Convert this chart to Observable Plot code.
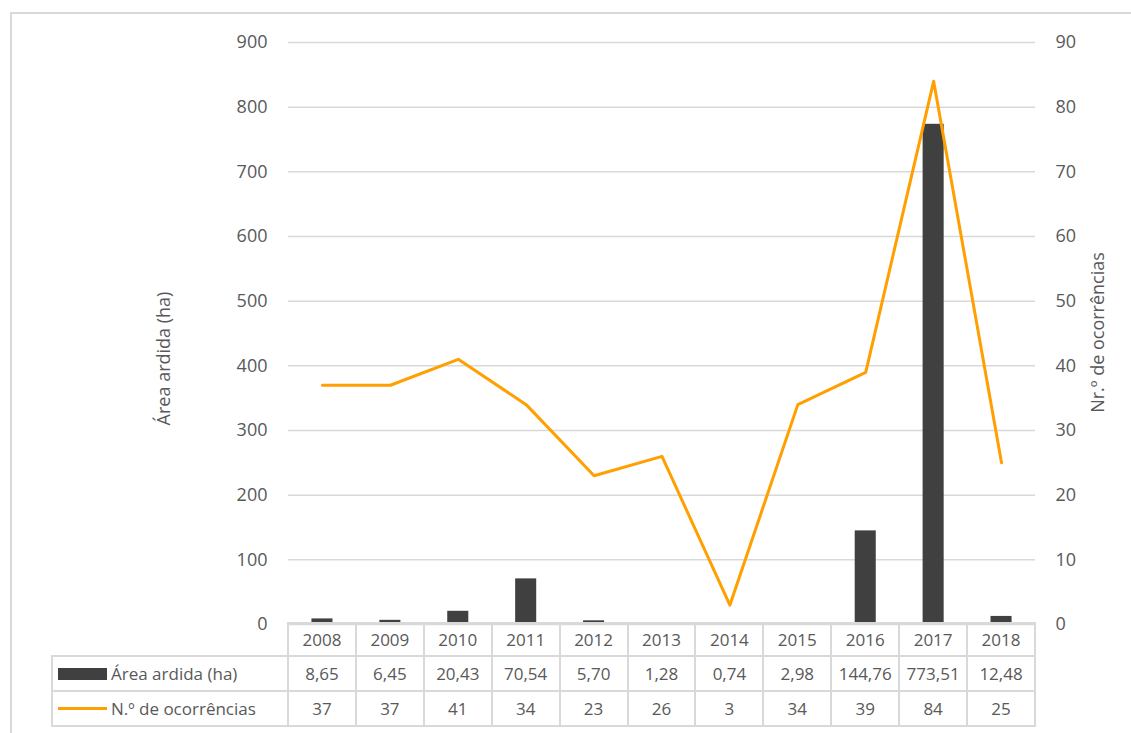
<!DOCTYPE html>
<html><head><meta charset="utf-8">
<script src="https://cdn.jsdelivr.net/npm/d3@7"></script>
<script src="https://cdn.jsdelivr.net/npm/@observablehq/plot@0.6"></script>
<style>
body{margin:0;background:#fff;font-family:"Open Sans",sans-serif;}
#wrap{position:relative;width:1131px;height:733px;overflow:hidden;background:#fff;}
#border{position:absolute;left:10px;top:12px;width:1200px;height:800px;border:2px solid #d9d9d9;box-sizing:border-box;}
#chart{position:absolute;left:0;top:0;}
#tbl{position:absolute;left:0;top:0;width:1131px;height:733px;font-family:"Open Sans",sans-serif;font-size:17px;color:#595959;}
#tbl .ln{position:absolute;background:#d9d9d9;}
#tbl .cell{position:absolute;display:flex;align-items:center;justify-content:center;white-space:nowrap;}
#tbl .leg{justify-content:flex-start;padding-left:6px;box-sizing:border-box;}
.key{display:inline-block;margin-right:4px;width:49px;}
</style></head><body>
<div id="wrap"><div id="border"></div><div id="chart"></div><div id="tbl"></div></div>
<script>
const years = ["2008","2009","2010","2011","2012","2013","2014","2015","2016","2017","2018"];
const area = [8.65, 6.45, 20.43, 70.54, 5.70, 1.28, 0.74, 2.98, 144.76, 773.51, 12.48];
const occurrences = [37, 37, 41, 34, 23, 26, 3, 34, 39, 84, 25];
const leftTicks = [0, 100, 200, 300, 400, 500, 600, 700, 800, 900];
const rightTicks = [0, 10, 20, 30, 40, 50, 60, 70, 80, 90];
const seriesNames = ["Área ardida (ha)", "N.º de ocorrências"];
const axisTitles = ["Área ardida (ha)", "Nr.º de ocorrências"];
const barColor = "#404040";
const lineColor = "#FF9F00";
const textColor = "#595959";

const ratio = 900 / 90;
const rows = years.map((year, i) => ({year, area: area[i], occ: occurrences[i]}));
const fmtArea = v => d3.format(".2f")(v).replace(".", ",");

const chart = Plot.plot({
  width: 1131, height: 640,
  marginTop: 42, marginBottom: 16, marginLeft: 288, marginRight: 96,
  style: {fontFamily: "Open Sans", color: textColor, background: "transparent"},
  x: {domain: years, paddingInner: 0.69, paddingOuter: 0.345, round: false, axis: null},
  y: {domain: [0, 900], axis: null},
  marks: [
    Plot.gridY(leftTicks, {stroke: "#d9d9d9", strokeOpacity: 1, strokeWidth: 1.5}),
    Plot.axisY(leftTicks, {anchor: "left", tickSize: 0, tickPadding: 21, fontSize: 18, fill: textColor, label: null}),
    Plot.axisY(rightTicks.map(d => d * ratio), {anchor: "right", tickSize: 0, tickPadding: 20, tickFormat: d => String(d / ratio), fontSize: 18, fill: textColor, label: null}),
    Plot.barY(rows, {x: "year", y: "area", fill: barColor}),
    Plot.line(rows, {x: "year", y: d => d.occ * ratio, stroke: lineColor, strokeWidth: 3}),
    Plot.text([axisTitles[0]], {text: d => d, frameAnchor: "left", textAnchor: "middle", dx: -124, dy: 25, rotate: -90, fontSize: 18, fill: textColor}),
    Plot.text([axisTitles[1]], {text: d => d, frameAnchor: "right", textAnchor: "middle", dx: 63, dy: -1, rotate: -90, fontSize: 18, fill: textColor})
  ]
});
document.getElementById("chart").appendChild(chart);

// data table below the plot, aligned with the x scale columns
const sx = chart.scale("x");
const step = sx.step;
const x0 = sx.range[0];
const x1 = x0 + step * years.length;
const legL = x0 - 236;
const rowY = [623, 656, 691, 726];
const tbl = document.getElementById("tbl");
let h = "";
const line = (l, t, w, hh) => { h += `<div class="ln" style="left:${l}px;top:${t}px;width:${w}px;height:${hh}px"></div>`; };
// horizontal lines
line(x0 - 1, rowY[0] - 1, x1 - x0 + 2, 2);
for (let r = 1; r < rowY.length; r++) line(legL - 1, rowY[r] - 1, x1 - legL + 2, 2);
// vertical lines
line(legL - 1, rowY[1] - 1, 2, rowY[3] - rowY[1] + 2);
for (let k = 0; k <= years.length; k++) line(x0 + k * step - 1, rowY[0] - 1, 2, rowY[3] - rowY[0] + 2);
const cell = (l, t, w, hh, content, cls = "") => { h += `<div class="cell ${cls}" style="left:${l}px;top:${t}px;width:${w}px;height:${hh}px">${content}</div>`; };
years.forEach((y, k) => cell(x0 + k * step, rowY[0], step, rowY[1] - rowY[0], y));
area.forEach((v, k) => cell(x0 + k * step, rowY[1], step, rowY[2] - rowY[1], fmtArea(v)));
occurrences.forEach((v, k) => cell(x0 + k * step, rowY[2], step, rowY[3] - rowY[2], v));
cell(legL, rowY[1], 236, rowY[2] - rowY[1], `<span class="key" style="height:12px;background:${barColor}"></span>${seriesNames[0]}`, "leg");
cell(legL, rowY[2], 236, rowY[3] - rowY[2], `<span class="key" style="height:3px;background:${lineColor}"></span>${seriesNames[1]}`, "leg");
tbl.innerHTML = h;
</script>
</body></html>
